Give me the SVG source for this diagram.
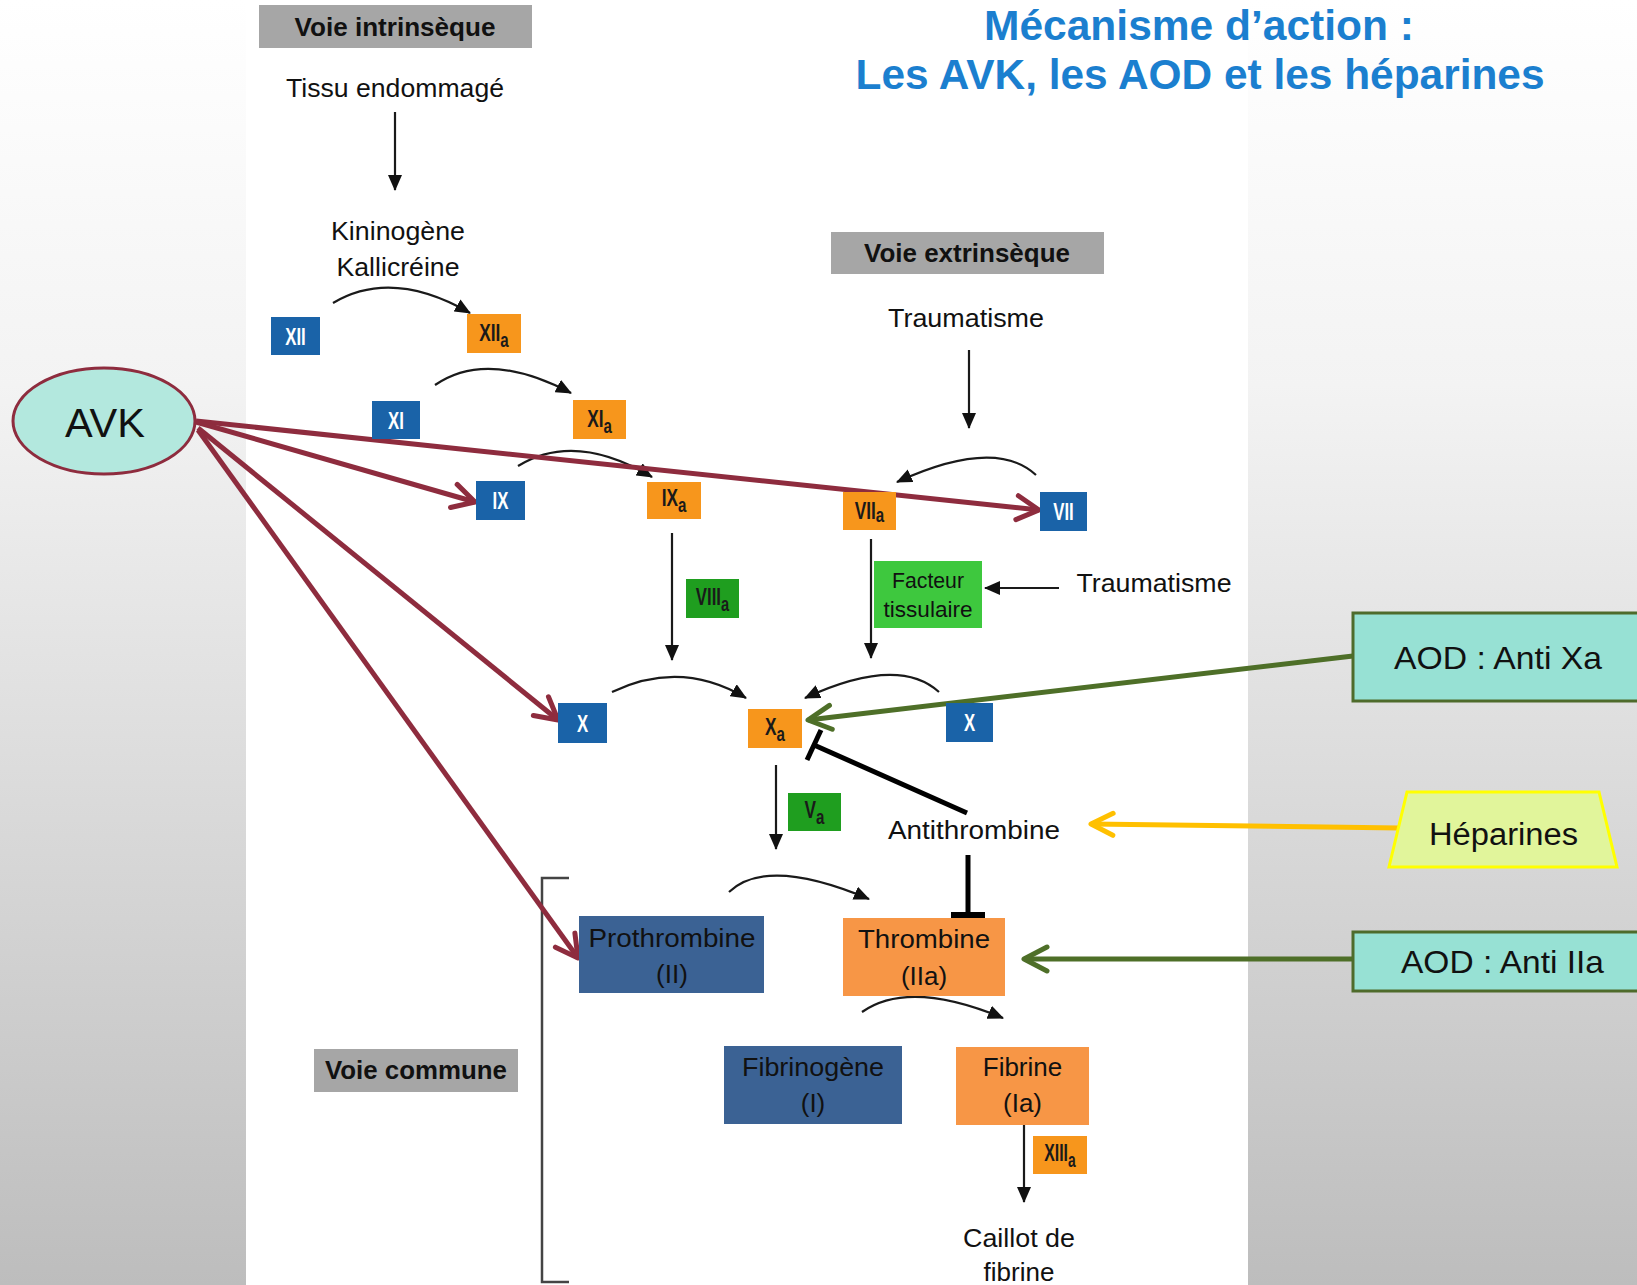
<svg xmlns="http://www.w3.org/2000/svg" width="1637" height="1285" viewBox="0 0 1637 1285">
<defs>
<linearGradient id="bg" x1="0" y1="0" x2="0" y2="1">
<stop offset="0" stop-color="#ffffff"/>
<stop offset="0.3" stop-color="#f3f3f3"/>
<stop offset="1" stop-color="#bdbdbd"/>
</linearGradient>
<marker id="tri" viewBox="0 0 16 14" refX="15" refY="7" markerWidth="16" markerHeight="14" markerUnits="userSpaceOnUse" orient="auto"><path d="M0,0 L16,7 L0,14 Z" fill="#111"/></marker>
<marker id="chevR" viewBox="0 0 32 32" refX="27" refY="16" markerWidth="32" markerHeight="32" markerUnits="userSpaceOnUse" orient="auto"><path d="M5,4 L27,16 L5,28" fill="none" stroke="#8e2c3e" stroke-width="5" stroke-linecap="round" stroke-linejoin="round"/></marker>
<marker id="chevG" viewBox="0 0 32 32" refX="27" refY="16" markerWidth="32" markerHeight="32" markerUnits="userSpaceOnUse" orient="auto"><path d="M4,4 L27,16 L4,28" fill="none" stroke="#4e6f28" stroke-width="5" stroke-linecap="round" stroke-linejoin="round"/></marker>
<marker id="chevY" viewBox="0 0 32 32" refX="27" refY="16" markerWidth="32" markerHeight="32" markerUnits="userSpaceOnUse" orient="auto"><path d="M5,5 L27,16 L5,27" fill="none" stroke="#ffc000" stroke-width="5" stroke-linecap="round" stroke-linejoin="round"/></marker>
</defs>
<style>
text{font-family:"Liberation Sans",Arial,sans-serif}
.t{fill:#111;text-anchor:middle;font-size:26px}
.hdr{fill:#111;text-anchor:middle;font-size:25px;font-weight:bold}
.hbox{fill:#a6a6a6}
.blue{fill:#1a63a8}
.orange{fill:#f7961c}
.dgreen{fill:#1f9e1f}
.lgreen{fill:#3ec83e}
.steel{fill:#3b6294}
.salmon{fill:#f79646}
.fw{fill:#ffffff;text-anchor:middle;font-size:24px;font-weight:bold}
.fb{fill:#1a1a1a;text-anchor:middle;font-size:24px;font-weight:bold}
.sub{font-size:21px}
.arc{fill:none;stroke:#1a1a1a;stroke-width:2.2;marker-end:url(#tri)}
.red{fill:none;stroke:#8e2c3e;stroke-width:5;marker-end:url(#chevR)}
.grn{fill:none;stroke:#4e6f28;stroke-width:5;marker-end:url(#chevG)}
.aod{fill:#97e1d4;stroke:#4e6b2b;stroke-width:3}
.big{fill:#111;text-anchor:middle;font-size:32px}
.title{fill:#1b7fcf;text-anchor:middle;font-size:42px;font-weight:bold}
</style>
<rect x="0" y="0" width="1637" height="1285" fill="url(#bg)"/>
<rect x="246" y="0" width="1002" height="1285" fill="#ffffff"/>

<g id="title">
<text class="title" x="1199" y="40" textLength="430" lengthAdjust="spacingAndGlyphs">Mécanisme d’action :</text>
<text class="title" x="1200" y="89" textLength="689" lengthAdjust="spacingAndGlyphs">Les AVK, les AOD et les héparines</text>
</g>

<g id="connectors">
<path class="arc" d="M395,112 L395,190"/>
<path class="arc" d="M333,303 Q392,268 470,313"/>
<path class="arc" d="M435,385 Q487,349 571,393"/>
<path class="arc" d="M518,466 Q575,431 652,477"/>
<path class="arc" d="M969,350 L969,428"/>
<path class="arc" d="M1036,475 Q995,437 897,482"/>
<path class="arc" d="M672,533 L672,660"/>
<path class="arc" d="M871,539 L871,658"/>
<path class="arc" d="M1059,588 L985,588"/>
<path class="arc" d="M612,692 Q681,659 746,698"/>
<path class="arc" d="M939,692 Q898,655 805,698"/>
<path class="arc" d="M776,765 L776,849"/>
<path class="arc" d="M729,892 Q767,856 869,899"/>
<path class="arc" d="M862,1012 Q909,979 1003,1018"/>
<path class="arc" d="M1024,1125 L1024,1202"/>
<path d="M569,878 L542,878 L542,1282 L569,1282" fill="none" stroke="#444" stroke-width="2.5"/>
<path d="M967,813 L814,745" fill="none" stroke="#000" stroke-width="5"/>
<path d="M821,730 L807,760" fill="none" stroke="#000" stroke-width="5"/>
<path d="M968,855 L968,915" fill="none" stroke="#000" stroke-width="5"/>
<path d="M951,915 L985,915" fill="none" stroke="#000" stroke-width="6"/>
<path class="red" d="M196,421 L1039,510"/>
<path class="red" d="M196,422 L475,502"/>
<path class="red" d="M198,428 L558,720"/>
<path class="red" d="M198,430 L578,958"/>
<path class="grn" d="M1353,656 L808,720"/>
<path class="grn" d="M1353,959 L1024,959"/>
<path d="M1399,828 L1091,824" fill="none" stroke="#ffc000" stroke-width="5" marker-end="url(#chevY)"/>
</g>

<g id="voie-intrinseque"><rect class="hbox" x="259" y="5" width="273" height="43"/><text class="hdr" x="395" y="36" textLength="201" lengthAdjust="spacingAndGlyphs">Voie intrinsèque</text></g>
<g id="voie-extrinseque"><rect class="hbox" x="831" y="232" width="273" height="42"/><text class="hdr" x="967" y="262" textLength="206" lengthAdjust="spacingAndGlyphs">Voie extrinsèque</text></g>
<g id="voie-commune"><rect class="hbox" x="314" y="1049" width="204" height="43"/><text class="hdr" x="416" y="1079" textLength="182" lengthAdjust="spacingAndGlyphs">Voie commune</text></g>

<g id="tissu"><text class="t" x="395" y="97" textLength="218" lengthAdjust="spacingAndGlyphs">Tissu endommagé</text></g>
<g id="kininogene"><text class="t" x="398" y="240" textLength="134" lengthAdjust="spacingAndGlyphs">Kininogène</text><text class="t" x="398" y="276" textLength="123" lengthAdjust="spacingAndGlyphs">Kallicréine</text></g>
<g id="traumatisme1"><text class="t" x="966" y="327" textLength="156" lengthAdjust="spacingAndGlyphs">Traumatisme</text></g>
<g id="traumatisme2"><text class="t" x="1154" y="592" textLength="155" lengthAdjust="spacingAndGlyphs">Traumatisme</text></g>

<g id="f-XII"><rect class="blue" x="271" y="317" width="49" height="38"/><text class="fw" transform="translate(295.5,345) scale(0.7,1)">XII</text></g>
<g id="f-XIIa"><rect class="orange" x="467" y="314" width="54" height="39"/><text class="fb" transform="translate(494,341) scale(0.72,1)">XII<tspan class="sub" dy="6">a</tspan></text></g>
<g id="f-XI"><rect class="blue" x="372" y="401" width="48" height="38"/><text class="fw" transform="translate(396,429) scale(0.7,1)">XI</text></g>
<g id="f-XIa"><rect class="orange" x="573" y="400" width="53" height="39"/><text class="fb" transform="translate(599.5,427) scale(0.72,1)">XI<tspan class="sub" dy="6">a</tspan></text></g>
<g id="f-IX"><rect class="blue" x="476" y="481" width="49" height="39"/><text class="fw" transform="translate(500.5,509) scale(0.7,1)">IX</text></g>
<g id="f-IXa"><rect class="orange" x="647" y="482" width="54" height="37"/><text class="fb" transform="translate(674,506) scale(0.72,1)">IX<tspan class="sub" dy="6">a</tspan></text></g>
<g id="f-VIIa"><rect class="orange" x="843" y="492" width="53" height="38"/><text class="fb" transform="translate(869.5,519) scale(0.72,1)">VII<tspan class="sub" dy="3">a</tspan></text></g>
<g id="f-VII"><rect class="blue" x="1040" y="492" width="47" height="39"/><text class="fw" transform="translate(1063.5,520) scale(0.7,1)">VII</text></g>
<g id="f-VIIIa"><rect class="dgreen" x="686" y="579" width="53" height="39"/><text class="fb" transform="translate(712.5,605) scale(0.7,1)">VIII<tspan class="sub" dy="6">a</tspan></text></g>
<g id="facteur-tissulaire"><rect class="lgreen" x="874" y="561" width="108" height="67"/><text class="t" x="928" y="588" style="font-size:22px" textLength="72" lengthAdjust="spacingAndGlyphs">Facteur</text><text class="t" x="928" y="617" style="font-size:22px" textLength="89" lengthAdjust="spacingAndGlyphs">tissulaire</text></g>
<g id="f-X-left"><rect class="blue" x="558" y="703" width="49" height="40"/><text class="fw" transform="translate(582.5,732) scale(0.7,1)">X</text></g>
<g id="f-Xa"><rect class="orange" x="748" y="709" width="54" height="39"/><text class="fb" transform="translate(775,735) scale(0.72,1)">X<tspan class="sub" dy="6">a</tspan></text></g>
<g id="f-X-right"><rect class="blue" x="946" y="703" width="47" height="39"/><text class="fw" transform="translate(969.5,731) scale(0.7,1)">X</text></g>
<g id="f-Va"><rect class="dgreen" x="788" y="793" width="53" height="38"/><text class="fb" transform="translate(814.5,818) scale(0.72,1)">V<tspan class="sub" dy="6">a</tspan></text></g>
<g id="antithrombine"><text class="t" x="974" y="839" style="font-size:25px" textLength="172" lengthAdjust="spacingAndGlyphs">Antithrombine</text></g>
<g id="prothrombine"><rect class="steel" x="579" y="916" width="185" height="77"/><text class="t" x="672" y="947" textLength="167" lengthAdjust="spacingAndGlyphs">Prothrombine</text><text class="t" x="672" y="983">(II)</text></g>
<g id="thrombine"><rect class="salmon" x="843" y="918" width="162" height="78"/><text class="t" x="924" y="948" textLength="132" lengthAdjust="spacingAndGlyphs">Thrombine</text><text class="t" x="924" y="985">(IIa)</text></g>
<g id="fibrinogene"><rect class="steel" x="724" y="1046" width="178" height="78"/><text class="t" x="813" y="1076" textLength="142" lengthAdjust="spacingAndGlyphs">Fibrinogène</text><text class="t" x="813" y="1112">(I)</text></g>
<g id="fibrine"><rect class="salmon" x="956" y="1047" width="133" height="78"/><text class="t" x="1022.5" y="1076">Fibrine</text><text class="t" x="1022.5" y="1112">(Ia)</text></g>
<g id="f-XIIIa"><rect class="orange" x="1033" y="1136" width="54" height="38"/><text class="fb" transform="translate(1060,1161) scale(0.66,1)">XIII<tspan class="sub" dy="6">a</tspan></text></g>
<g id="caillot"><text class="t" x="1019" y="1247" textLength="112" lengthAdjust="spacingAndGlyphs">Caillot de</text><text class="t" x="1019" y="1281">fibrine</text></g>

<g id="avk"><ellipse cx="104" cy="421" rx="91" ry="53" fill="#b3e8de" stroke="#8e2c3e" stroke-width="3"/><text class="big" x="105" y="437" style="font-size:40px" textLength="80" lengthAdjust="spacingAndGlyphs">AVK</text></g>
<g id="aod-xa"><rect class="aod" x="1353" y="613" width="300" height="88"/><text class="big" x="1498" y="669" textLength="208" lengthAdjust="spacingAndGlyphs">AOD : Anti Xa</text></g>
<g id="heparines"><polygon points="1407,792 1599,792 1617,867 1389,867" fill="#e1f59b" stroke="#ffff00" stroke-width="3"/><text class="big" x="1503.5" y="845" style="font-size:31px" textLength="149" lengthAdjust="spacingAndGlyphs">Héparines</text></g>
<g id="aod-iia"><rect class="aod" x="1353" y="932" width="300" height="59"/><text class="big" x="1502.5" y="973" textLength="203" lengthAdjust="spacingAndGlyphs">AOD : Anti IIa</text></g>
</svg>
